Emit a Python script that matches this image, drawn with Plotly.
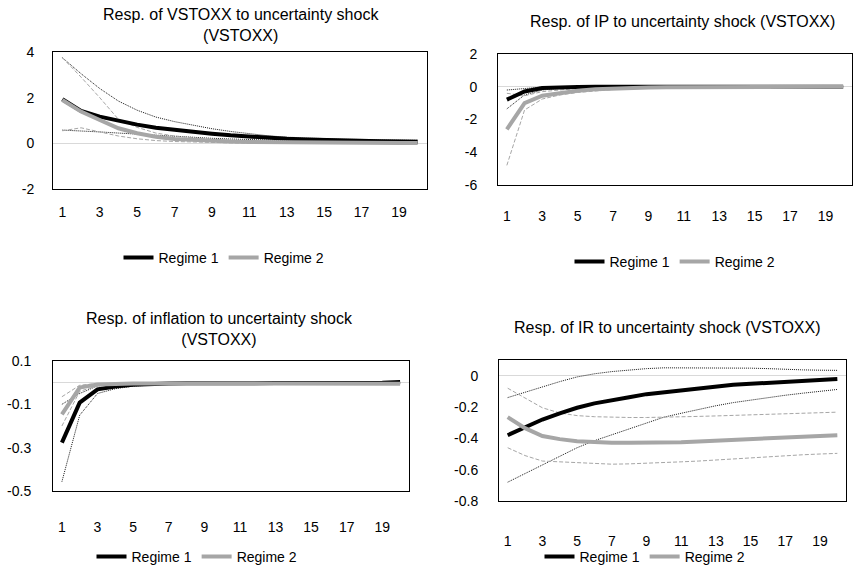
import plotly.graph_objects as go

periods = list(range(1, 21))
x_tickvals = list(range(1, 20, 2))
x_ticktext = [str(v) for v in x_tickvals]

# Panel 1: VSTOXX response
vst_r1 = [1.93, 1.42, 1.17, 0.98, 0.82, 0.68, 0.58, 0.5, 0.42, 0.35, 0.29, 0.24, 0.2, 0.17, 0.14, 0.12, 0.1, 0.09, 0.08, 0.07]
vst_r2 = [1.9, 1.39, 1.02, 0.66, 0.44, 0.29, 0.19, 0.14, 0.1, 0.08, 0.06, 0.05, 0.04, 0.03, 0.03, 0.02, 0.02, 0.02, 0.02, 0.02]
vst_r1_hi = [3.75, 3.05, 2.4, 1.85, 1.45, 1.15, 0.95, 0.78, 0.64, 0.52, 0.42, 0.33, 0.27, 0.23, 0.2, 0.18, 0.17, 0.16, 0.15, 0.14]
vst_r1_lo = [0.58, 0.55, 0.5, 0.45, 0.4, 0.35, 0.3, 0.26, 0.22, 0.19, 0.16, 0.14, 0.12, 0.1, 0.09, 0.08, 0.07, 0.06, 0.05, 0.05]
vst_r2_hi = [3.75, 2.9, 2.0, 1.05, 0.7, 0.45, 0.32, 0.23, 0.17, 0.13, 0.1, 0.08, 0.07, 0.06, 0.05, 0.04, 0.04, 0.04, 0.03, 0.03]
vst_r2_lo = [0.55, 0.68, 0.5, 0.32, 0.2, 0.12, 0.08, 0.05, 0.03, 0.02, 0.01, 0.01, 0.0, 0.0, 0.0, 0.0, 0.0, 0.0, 0.0, 0.0]

# Panel 2: IP response
ip_r1 = [-0.79, -0.29, -0.08, -0.02, -0.01, 0, 0, 0, 0, 0, 0, 0, 0, 0, 0, 0, 0, 0, 0, 0]
ip_r2 = [-2.6, -1.0, -0.55, -0.37, -0.24, -0.15, -0.1, -0.06, -0.04, -0.03, -0.02, -0.01, -0.01, 0, 0, 0, 0, 0, 0, 0]
ip_r1_hi = [-0.2, -0.1, -0.02, 0, 0, 0, 0, 0, 0, 0, 0, 0, 0, 0, 0, 0, 0, 0, 0, 0]
ip_r1_lo = [-1.35, -0.5, -0.2, -0.1, -0.05, -0.03, -0.02, -0.01, 0, 0, 0, 0, 0, 0, 0, 0, 0, 0, 0, 0]
ip_r2_hi = [-0.4, -0.55, -0.3, -0.18, -0.1, -0.06, -0.04, -0.02, -0.01, 0, 0, 0, 0, 0, 0, 0, 0, 0, 0, 0]
ip_r2_lo = [-4.8, -1.42, -0.75, -0.5, -0.35, -0.25, -0.17, -0.12, -0.08, -0.06, -0.04, -0.03, -0.02, -0.02, -0.01, -0.01, 0, 0, 0, 0]

# Panel 3: inflation response
inf_r1 = [-0.277, -0.092, -0.031, -0.018, -0.01, -0.006, -0.004, -0.003, -0.002, -0.002, -0.002, -0.002, -0.002, -0.002, -0.002, -0.002, -0.002, -0.001, 0.0, 0.003]
inf_r2 = [-0.146, -0.023, -0.008, -0.005, -0.004, -0.004, -0.004, -0.005, -0.005, -0.005, -0.005, -0.005, -0.005, -0.005, -0.005, -0.005, -0.005, -0.005, -0.005, -0.005]
inf_r1_hi = [-0.1, -0.05, -0.015, -0.008, -0.004, -0.002, -0.001, 0, 0, 0, 0, 0, 0, 0, 0, 0, 0, 0, 0, 0.002]
inf_r1_lo = [-0.457, -0.15, -0.05, -0.028, -0.016, -0.01, -0.007, -0.005, -0.004, -0.004, -0.004, -0.004, -0.004, -0.004, -0.004, -0.004, -0.004, -0.004, -0.003, -0.002]
inf_r2_hi = [-0.065, -0.012, -0.004, -0.002, -0.001, -0.001, -0.001, -0.001, -0.001, -0.001, -0.001, -0.001, -0.001, -0.001, -0.001, -0.001, -0.001, -0.001, -0.001, -0.001]
inf_r2_lo = [-0.2, -0.04, -0.014, -0.009, -0.008, -0.008, -0.008, -0.008, -0.008, -0.008, -0.008, -0.008, -0.008, -0.008, -0.008, -0.008, -0.008, -0.008, -0.008, -0.008]

# Panel 4: interest-rate response
ir_r1 = [-0.38, -0.33, -0.28, -0.24, -0.205, -0.177, -0.155, -0.138, -0.118, -0.105, -0.092, -0.078, -0.068, -0.058, -0.052, -0.045, -0.038, -0.033, -0.03, -0.022]
ir_r2 = [-0.265, -0.335, -0.385, -0.405, -0.418, -0.425, -0.428, -0.428, -0.428, -0.427, -0.425, -0.42, -0.415, -0.41, -0.405, -0.4, -0.395, -0.39, -0.385, -0.38]
ir_r1_hi = [-0.14, -0.105, -0.07, -0.038, -0.008, 0.012, 0.026, 0.037, 0.045, 0.05, 0.05, 0.05, 0.05, 0.05, 0.048, 0.045, 0.04, 0.037, 0.035, 0.034]
ir_r1_lo = [-0.68, -0.625, -0.565, -0.51, -0.46, -0.415, -0.378, -0.34, -0.3, -0.265, -0.24, -0.215, -0.192, -0.172, -0.155, -0.14, -0.125, -0.112, -0.1, -0.088]
ir_r2_hi = [-0.08, -0.145, -0.205, -0.238, -0.255, -0.262, -0.266, -0.267, -0.267, -0.266, -0.264, -0.26, -0.257, -0.253, -0.25, -0.246, -0.242, -0.239, -0.236, -0.233]
ir_r2_lo = [-0.46, -0.51, -0.545, -0.55, -0.555, -0.562, -0.565, -0.563, -0.56, -0.555, -0.55, -0.545, -0.538, -0.53, -0.524, -0.518, -0.512, -0.505, -0.5, -0.496]

titles = [
    "Resp. of VSTOXX to uncertainty shock<br>(VSTOXX)",
    "Resp. of IP to uncertainty shock (VSTOXX)",
    "Resp. of inflation to uncertainty shock<br>(VSTOXX)",
    "Resp. of IR to uncertainty shock (VSTOXX)",
]
y_tickvals = [[-2, 0, 2, 4], [-6, -4, -2, 0, 2], [-0.5, -0.3, -0.1, 0.1], [-0.8, -0.6, -0.4, -0.2, 0]]
y_ticktext = [["-2", "0", "2", "4"], ["-6", "-4", "-2", "0", "2"], ["-0.5", "-0.3", "-0.1", "0.1"], ["-0.8", "-0.6", "-0.4", "-0.2", "0"]]
y_ranges = [[-2, 4], [-6, 2], [-0.5, 0.1], [-0.8, 0.1]]

panels = [
    (vst_r1, vst_r2, vst_r1_hi, vst_r1_lo, vst_r2_hi, vst_r2_lo),
    (ip_r1, ip_r2, ip_r1_hi, ip_r1_lo, ip_r2_hi, ip_r2_lo),
    (inf_r1, inf_r2, inf_r1_hi, inf_r1_lo, inf_r2_hi, inf_r2_lo),
    (ir_r1, ir_r2, ir_r1_hi, ir_r1_lo, ir_r2_hi, ir_r2_lo),
]

W, H = 853, 573
# plot boxes in pixels: (left, right, top, bottom)
boxes = [(53, 427, 52, 189), (498, 852, 54, 185), (53, 409, 361, 491), (499, 846, 360, 501)]
x_standoff = [10, 18, 23, 27]
y_standoff = [15, 17, 18, 17]
title_pos = [(241, 25), (682, 22), (219, 329), (667, 327)]
# legend centre x, vertical position and anchor
legend_pos = [(224, 258, "middle"), (675, 262, "middle"), (197, 573, "bottom"), (645, 573, "bottom")]

BLACK = "#000000"
GRAY = "#A6A6A6"
BAND_GRAY = "#A6A6A6"
FONT = "Liberation Sans"

fig = go.Figure()
layout = dict(
    width=W, height=H,
    margin=dict(l=0, r=0, t=0, b=0, autoexpand=False),
    paper_bgcolor="white", plot_bgcolor="white",
    font=dict(family=FONT, size=14, color="#000000"),
    annotations=[],
)

for i, (r1, r2, r1_hi, r1_lo, r2_hi, r2_lo) in enumerate(panels):
    n = "" if i == 0 else str(i + 1)
    xa, ya = "x" + n, "y" + n
    leg = "legend" + n
    common = dict(x=periods, xaxis=xa, yaxis=ya, mode="lines", legend=leg)
    for band in (r1_hi, r1_lo):
        fig.add_trace(go.Scatter(y=band, line=dict(color="#1A1A1A", width=1, dash="1px,1px"),
                                 showlegend=False, hoverinfo="skip", **common))
    for band in (r2_hi, r2_lo):
        fig.add_trace(go.Scatter(y=band, line=dict(color=BAND_GRAY, width=1, dash="4px,2px"),
                                 showlegend=False, hoverinfo="skip", **common))
    fig.add_trace(go.Scatter(y=r1, name="Regime 1", line=dict(color=BLACK, width=4), **common))
    fig.add_trace(go.Scatter(y=r2, name="Regime 2", line=dict(color=GRAY, width=4), **common))

    l, r, t, b = boxes[i]
    layout["xaxis" + n] = dict(
        domain=[l / W, r / W], anchor=ya, range=[0.5, 20.5], automargin=False,
        tickvals=x_tickvals, ticktext=x_ticktext, ticks="",
        showgrid=False, zeroline=False, showline=True, mirror=True,
        linecolor="#000000", linewidth=1, ticklabelstandoff=x_standoff[i],
        tickfont=dict(size=14),
    )
    layout["yaxis" + n] = dict(
        domain=[1 - b / H, 1 - t / H], anchor=xa, range=y_ranges[i], automargin=False,
        tickvals=y_tickvals[i], ticktext=y_ticktext[i], ticks="",
        showgrid=False, zeroline=True, zerolinecolor="#D9D9D9", zerolinewidth=1,
        showline=True, mirror=True, linecolor="#000000", linewidth=1,
        ticklabelstandoff=y_standoff[i], tickfont=dict(size=14),
    )
    lx, ly, lanchor = legend_pos[i]
    layout[leg] = dict(
        orientation="h", x=lx / W, y=1 - ly / H, xanchor="center", yanchor=lanchor,
        font=dict(family=FONT, size=14), bgcolor="rgba(0,0,0,0)",
        itemwidth=30, tracegroupgap=0,
    )
    tx, ty = title_pos[i]
    layout["annotations"].append(dict(
        text=titles[i], x=tx / W, y=1 - ty / H, xref="paper", yref="paper",
        xanchor="center", yanchor="middle", showarrow=False,
        font=dict(family=FONT, size=16),
    ))

fig.update_layout(**layout)
fig.write_html("out.html")
